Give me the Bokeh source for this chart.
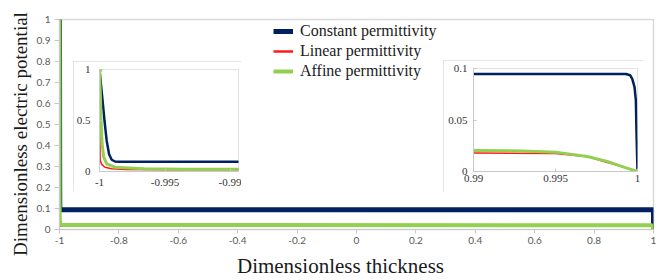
import math
from bokeh.plotting import figure
from bokeh.models import Range1d, FixedTicker, Legend, LegendItem, Label
from bokeh.embed import file_html
from bokeh.resources import INLINE

# ---- data ----
series_names = ["Constant permittivity", "Linear permittivity", "Affine permittivity"]
x_title = "Dimensionless thickness"
y_title = "Dimensionless electric potential"

const_x = [-1.0, -0.9999, -0.99977, -0.99962, -0.99945, -0.99927, -0.99907, -0.99882, -0.9985,
           0.9993, 0.99955, 0.99968, 0.99982, 0.9999, 0.99994, 1.0]
const_y = [1.0, 0.87, 0.70, 0.50, 0.30, 0.17, 0.115, 0.098, 0.0946,
           0.0946, 0.0935, 0.090, 0.082, 0.069, 0.037, 0.0]

linear_x = [-1.0, -0.99998, -0.99996, -0.99995, -0.99983, -0.99958, -0.99907, -0.998, -0.995,
            0.99, 0.995, 0.997, 0.998, 0.999, 1.0]
linear_y = [1.0, 0.70, 0.24, 0.11, 0.07, 0.042, 0.026, 0.020, 0.018,
            0.018, 0.0175, 0.0142, 0.0095, 0.005, 0.0]

affine_x = [-1.0, -0.99992, -0.99988, -0.9998, -0.99968, -0.99945, -0.99882, -0.9966, -0.9935, -0.99,
            0.99, 0.993, 0.995, 0.99693, 0.99815, 0.99917, 1.0]
affine_y = [1.0, 0.70, 0.50, 0.27, 0.14, 0.075, 0.042, 0.026, 0.022, 0.021,
            0.0205, 0.0200, 0.0188, 0.0146, 0.0098, 0.0042, 0.0]

main_x_ticks = [-1, -0.8, -0.6, -0.4, -0.2, 0, 0.2, 0.4, 0.6, 0.8, 1]
main_x_labels = ["-1", "-0.8", "-0.6", "-0.4", "-0.2", "0", "0.2", "0.4", "0.6", "0.8", "1"]
main_y_ticks = [0, 0.1, 0.2, 0.3, 0.4, 0.5, 0.6, 0.7, 0.8, 0.9, 1]
main_y_labels = ["0", "0.1", "0.2", "0.3", "0.4", "0.5", "0.6", "0.7", "0.8", "0.9", "1"]

left_x_ticks = [-1, -0.995, -0.99]
left_x_labels = ["-1", "-0.995", "-0.99"]
left_y_ticks = [0, 0.5, 1]
left_y_labels = ["0", "0.5", "1"]

right_x_ticks = [0.99, 0.995, 1]
right_x_labels = ["0.99", "0.995", "1"]
right_y_ticks = [0, 0.05, 0.1]
right_y_labels = ["0", "0.05", "0.1"]

NAVY = "#002060"
RED = "#ff1a1a"
GREEN = "#92d050"
AXIS_GRAY = "#c8c8c8"
SERIF = "Liberation Serif"
W, H = 664, 280


def ticks_setup(axis, ticks, labels):
    axis.ticker = FixedTicker(ticks=ticks)
    axis.major_label_overrides = {t: l for t, l in zip(ticks, labels)}
    axis.minor_tick_line_color = None


# ---- main figure (page has no margin: figure fills the window) ----
main = figure(width=W, height=H, output_backend="svg", toolbar_location=None,
              x_range=Range1d(-1, 1), y_range=Range1d(0, 1),
              min_border_left=59, min_border_right=11, min_border_top=19, min_border_bottom=51)
main.xgrid.visible = False
main.ygrid.visible = False
main.outline_line_color = "#d9d9d9"
main.outline_line_width = 1.5
main.background_fill_color = "white"
main.border_fill_color = "white"

ticks_setup(main.xaxis[0], main_x_ticks, main_x_labels)
ticks_setup(main.yaxis[0], main_y_ticks, main_y_labels)
for ax in (main.xaxis[0], main.yaxis[0]):
    ax.axis_line_color = AXIS_GRAY
    ax.major_tick_line_color = AXIS_GRAY
    ax.major_tick_in = 0
    ax.major_label_text_font = "Lato"
    ax.major_label_text_font_size = "10px"
    ax.major_label_text_color = "#595959"
main.xaxis[0].major_tick_out = 4
main.xaxis[0].major_label_standoff = 3
main.yaxis[0].major_tick_out = 5
main.yaxis[0].major_label_standoff = 4

r_const = main.line(const_x, const_y, line_color=NAVY, line_width=5)
r_lin = main.line(linear_x, linear_y, line_color=RED, line_width=2.5)
r_aff = main.line(affine_x, affine_y, line_color=GREEN, line_width=4)

legend = Legend(items=[LegendItem(label=series_names[0], renderers=[r_const]),
                       LegendItem(label=series_names[1], renderers=[r_lin]),
                       LegendItem(label=series_names[2], renderers=[r_aff])],
                location=(214, 148), orientation="vertical",
                border_line_color=None, background_fill_alpha=0,
                padding=0, margin=0, spacing=0,
                glyph_width=20, glyph_height=20, label_height=20, label_standoff=7,
                label_text_font=SERIF, label_text_font_size="16px", label_text_color="#1a1a1a")
main.add_layout(legend)


def make_inset(xr, yr, w, h, left, top, bl, br, bt, bb, xt, xl, yt, yl, xstand, ystand, widths):
    f = figure(width=w, height=h, output_backend="svg", toolbar_location=None,
               x_range=Range1d(*xr), y_range=Range1d(*yr),
               min_border_left=bl, min_border_right=br, min_border_top=bt, min_border_bottom=bb,
               styles={"position": "absolute", "left": f"{left}px", "top": f"{top}px",
                       "outline": "1px solid #dcdcdc", "outline-offset": "-1px"})
    f.xgrid.visible = False
    f.ygrid.visible = False
    f.outline_line_color = "#e3e3e3"
    f.background_fill_color = "white"
    f.border_fill_color = "white"
    ticks_setup(f.xaxis[0], xt, xl)
    ticks_setup(f.yaxis[0], yt, yl)
    for ax in (f.xaxis[0], f.yaxis[0]):
        ax.axis_line_color = AXIS_GRAY
        ax.major_tick_line_color = AXIS_GRAY
        ax.major_tick_in = 3
        ax.major_tick_out = 0
        ax.major_label_text_font = SERIF
        ax.major_label_text_font_size = "11px"
        ax.major_label_text_color = "#333333"
    f.xaxis[0].major_label_standoff = xstand
    f.yaxis[0].major_label_standoff = ystand
    f.line(const_x, const_y, line_color=NAVY, line_width=widths[0])
    f.line(linear_x, linear_y, line_color=RED, line_width=widths[1])
    f.line(affine_x, affine_y, line_color=GREEN, line_width=widths[2])
    return f


left_inset = make_inset((-1, -0.9894), (0, 1), 168, 130, 73, 61, 25, 3, 8, 20,
                        left_x_ticks, left_x_labels, left_y_ticks, left_y_labels, 7, 9,
                        (2.5, 1.5, 3))
left_inset.scatter([affine_x[0]], [affine_y[0]], size=5, color=GREEN)

right_inset = make_inset((0.99, 1.0), (0, 0.1), 200, 132, 443, 60, 30, 6, 8, 21,
                         right_x_ticks, right_x_labels, right_y_ticks, right_y_labels, 3, 6,
                         (2.5, 1.5, 3))
right_inset.scatter([affine_x[-1]], [affine_y[-1]], size=4, color=GREEN)

# transparent overlay (pixel coordinates) carrying the two axis titles
titles = figure(width=W, height=H, output_backend="svg", toolbar_location=None,
                x_range=Range1d(0, W), y_range=Range1d(0, H), min_border=0,
                x_axis_location=None, y_axis_location=None,
                styles={"position": "absolute", "left": "0px", "top": "0px",
                        "pointer-events": "none"})
titles.xgrid.visible = False
titles.ygrid.visible = False
titles.outline_line_color = None
titles.background_fill_alpha = 0
titles.border_fill_alpha = 0
titles.add_layout(Label(x=340, y=H - 265, text=x_title, text_font=SERIF, text_font_size="21px",
                        text_color="#1a1a1a", text_align="center", text_baseline="middle"))
titles.add_layout(Label(x=19.5, y=H - 133.5, text=y_title, text_font=SERIF, text_font_size="19px",
                        text_color="#1a1a1a", text_align="center", text_baseline="middle",
                        angle=math.pi / 2))

open("out.html", "w").write(file_html([main, left_inset, right_inset, titles], INLINE))
